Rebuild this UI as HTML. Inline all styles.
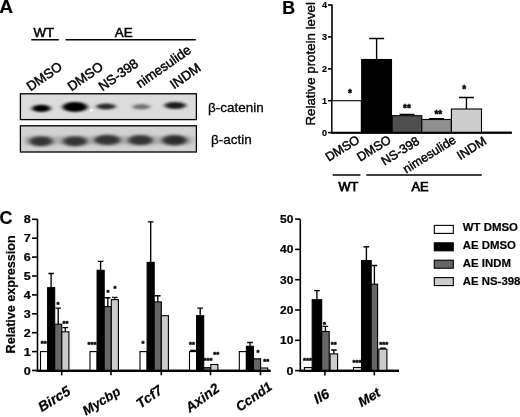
<!DOCTYPE html>
<html><head><meta charset="utf-8"><title>Figure</title>
<style>
html,body{margin:0;padding:0;background:#fff;}
body{width:520px;height:417px;overflow:hidden;position:relative;font-family:"Liberation Sans",sans-serif;}
svg{position:absolute;left:0;top:0;display:block;}
text{font-family:"Liberation Sans",sans-serif;fill:#000;stroke:#000;stroke-width:0.3px;}
.b{font-weight:bold;stroke-width:0.2px;}
.bi{font-weight:bold;font-style:italic;}
.ax{stroke:#000;stroke-width:1.6;fill:none;}
.eb{stroke:#000;stroke-width:1.35;fill:none;}
.bar{stroke:#000;stroke-width:1.1;}
.st{font-weight:bold;text-anchor:middle;stroke-width:0.45px;}
</style></head><body>
<svg width="520" height="417" viewBox="0 0 520 417">
<defs>
<filter id="bl1" x="-30%" y="-60%" width="160%" height="220%"><feGaussianBlur stdDeviation="1.9 1.25"/></filter>
<filter id="bl2" x="-30%" y="-60%" width="160%" height="220%"><feGaussianBlur stdDeviation="2.7 1.7"/></filter>
<filter id="soft"><feGaussianBlur stdDeviation="0.35"/></filter>
</defs>
<rect x="0" y="0" width="520" height="417" fill="#fff"/>
<g filter="url(#soft)">

<text class="b" x="-0.8" y="13.3" font-size="19.2">A</text>
<text x="33.4" y="36.5" font-size="13.3" style="stroke-width:0.55px">WT</text>
<text x="114.8" y="36.5" font-size="13.4" style="stroke-width:0.5px">AE</text>
<path class="ax" style="stroke-width:1.4" d="M31.3 39.8H58.8M65.5 39.8H195.8"/>
<text  transform="translate(30.5 91.5) rotate(-35)" font-size="13.3" text-anchor="start" style="stroke-width:0.45px">DMSO</text>
<text  transform="translate(71.5 91.5) rotate(-35)" font-size="13.3" text-anchor="start" style="stroke-width:0.45px">DMSO</text>
<text  transform="translate(102.5 91.5) rotate(-35)" font-size="13.3" text-anchor="start" style="stroke-width:0.45px">NS-398</text>
<text  transform="translate(140 88.5) rotate(-35)" font-size="13.3" text-anchor="start" style="stroke-width:0.45px">nimesulide</text>
<text  transform="translate(174 89.5) rotate(-35)" font-size="13.3" text-anchor="start" style="stroke-width:0.45px">INDM</text>
<rect x="20.4" y="93.8" width="176" height="25.8" fill="#dcdcdc" stroke="#000" stroke-width="1.3"/>
<rect x="20.4" y="125.8" width="176" height="26.2" fill="#d2d2d2" stroke="#000" stroke-width="1.3"/>
<ellipse cx="41.3" cy="108.4" rx="9.4" ry="3.6" fill="#000" opacity="1" filter="url(#bl1)"/>
<ellipse cx="75" cy="107" rx="12.6" ry="4.9" fill="#000" opacity="1" filter="url(#bl1)"/>
<ellipse cx="106" cy="106.5" rx="10" ry="2.9" fill="#2a2a2a" opacity="1" filter="url(#bl1)"/>
<ellipse cx="141.3" cy="106.8" rx="9" ry="2.7" fill="#666" opacity="0.9" filter="url(#bl1)"/>
<ellipse cx="175.2" cy="105.5" rx="10.8" ry="3.4" fill="#1c1c1c" opacity="1" filter="url(#bl1)"/>
<ellipse cx="41" cy="141.3" rx="11.8" ry="4.9" fill="#262626" filter="url(#bl2)"/>
<ellipse cx="75" cy="141.3" rx="12.2" ry="4.9" fill="#262626" filter="url(#bl2)"/>
<ellipse cx="107.3" cy="140" rx="13.2" ry="5" fill="#262626" filter="url(#bl2)"/>
<ellipse cx="140.5" cy="140.2" rx="12.5" ry="4.9" fill="#262626" filter="url(#bl2)"/>
<ellipse cx="174.5" cy="140.2" rx="12.5" ry="5" fill="#1e1e1e" filter="url(#bl2)"/>
<rect x="24" y="136.5" width="169" height="8" fill="#555" opacity="0.28" filter="url(#bl2)"/>
<circle cx="91.3" cy="110.3" r="1.4" fill="#fff" opacity="0.9"/>
<text x="208" y="111.7" font-size="13.5">β-catenin</text>
<text x="211" y="144.3" font-size="13.5">β-actin</text>
<text class="b" x="282.3" y="13.9" font-size="17.8">B</text>
<text transform="translate(315.3 125.5) rotate(-90)" font-size="13.3" style="stroke-width:0.4px">Relative protein level</text>
<path class="ax" d="M332 4.5V132.6H511"/>
<path class="ax" d="M328 132.6H332"/>
<text class="b" x="327" y="135.7" font-size="9" text-anchor="end">0</text>
<path class="ax" d="M328 100.7H332"/>
<text class="b" x="327" y="103.8" font-size="9" text-anchor="end">1</text>
<path class="ax" d="M328 68.8H332"/>
<text class="b" x="327" y="71.9" font-size="9" text-anchor="end">2</text>
<path class="ax" d="M328 36.9H332"/>
<text class="b" x="327" y="40.0" font-size="9" text-anchor="end">3</text>
<path class="ax" d="M328 5.0H332"/>
<text class="b" x="327" y="8.1" font-size="9" text-anchor="end">4</text>
<rect class="bar" x="332" y="100.7" width="29.30000000000001" height="31.9" fill="#fff"/>
<path class="eb" d="M376.6 59.5V38.5M369.1 38.5H384.1"/>
<rect class="bar" x="361.7" y="59.5" width="29.80000000000001" height="73.1" fill="#000"/>
<path class="eb" d="M407.05 115.7V114.4M399.55 114.4H414.55"/>
<rect class="bar" x="392.3" y="115.7" width="29.5" height="16.9" fill="#505050"/>
<path class="eb" d="M436.6 119.5V118.6M429.1 118.6H444.1"/>
<rect class="bar" x="421.8" y="119.5" width="29.599999999999966" height="13.1" fill="#909090"/>
<path class="eb" d="M466.45 109.0V97.5M458.95 97.5H473.95"/>
<rect class="bar" x="451.4" y="109.0" width="30.100000000000023" height="23.6" fill="#cdcdcd"/>
<path class="ax" style="stroke-width:2" d="M331.2 132.79999999999998H512"/>
<text class="st" x="350" y="97" font-size="10">*</text>
<text class="st" x="407" y="111.5" font-size="10">**</text>
<text class="st" x="438.3" y="117.6" font-size="10">**</text>
<text class="st" x="464.3" y="92.5" font-size="10">*</text>
<text  transform="translate(360.5 142) rotate(-32)" font-size="12.5" text-anchor="end" style="stroke-width:0.45px">DMSO</text>
<text  transform="translate(392 142) rotate(-32)" font-size="12.5" text-anchor="end" style="stroke-width:0.45px">DMSO</text>
<text  transform="translate(420.5 143.3) rotate(-32)" font-size="12.5" text-anchor="end" style="stroke-width:0.45px">NS-398</text>
<text  transform="translate(457 142) rotate(-32)" font-size="12.5" text-anchor="end" style="stroke-width:0.45px">nimesulide</text>
<text  transform="translate(487.3 143.3) rotate(-32)" font-size="12.5" text-anchor="end" style="stroke-width:0.45px">INDM</text>
<path class="ax" style="stroke-width:1.35" d="M332.8 175H360.4M366.3 175H481.8"/>
<text x="338.5" y="190.6" font-size="12.8" style="stroke-width:0.75px">WT</text>
<text x="411.5" y="190.6" font-size="12.8" style="stroke-width:0.75px">AE</text>
<text class="b" x="-0.5" y="224" font-size="17.8">C</text>
<text class="b" transform="translate(14.6 353.4) rotate(-90)" font-size="12" textLength="118" lengthAdjust="spacingAndGlyphs">Relative expression</text>
<path class="ax" d="M37.5 219.3V370.5H270"/>
<path class="ax" d="M32.0 370.5H37.5"/>
<text class="b" x="30.7" y="374.5" font-size="11" text-anchor="end" textLength="7" lengthAdjust="spacingAndGlyphs">0</text>
<path class="ax" d="M32.0 351.6H37.5"/>
<text class="b" x="30.7" y="355.6" font-size="11" text-anchor="end" textLength="7" lengthAdjust="spacingAndGlyphs">1</text>
<path class="ax" d="M32.0 332.7H37.5"/>
<text class="b" x="30.7" y="336.7" font-size="11" text-anchor="end" textLength="7" lengthAdjust="spacingAndGlyphs">2</text>
<path class="ax" d="M32.0 313.8H37.5"/>
<text class="b" x="30.7" y="317.8" font-size="11" text-anchor="end" textLength="7" lengthAdjust="spacingAndGlyphs">3</text>
<path class="ax" d="M32.0 294.9H37.5"/>
<text class="b" x="30.7" y="298.9" font-size="11" text-anchor="end" textLength="7" lengthAdjust="spacingAndGlyphs">4</text>
<path class="ax" d="M32.0 276.0H37.5"/>
<text class="b" x="30.7" y="280.0" font-size="11" text-anchor="end" textLength="7" lengthAdjust="spacingAndGlyphs">5</text>
<path class="ax" d="M32.0 257.1H37.5"/>
<text class="b" x="30.7" y="261.1" font-size="11" text-anchor="end" textLength="7" lengthAdjust="spacingAndGlyphs">6</text>
<path class="ax" d="M32.0 238.2H37.5"/>
<text class="b" x="30.7" y="242.2" font-size="11" text-anchor="end" textLength="7" lengthAdjust="spacingAndGlyphs">7</text>
<path class="ax" d="M32.0 219.3H37.5"/>
<text class="b" x="30.7" y="223.3" font-size="11" text-anchor="end" textLength="7" lengthAdjust="spacingAndGlyphs">8</text>
<rect class="bar" x="40.5" y="351.6" width="7.1" height="18.9" fill="#fff"/>
<path class="eb" d="M51.1 287.7V273.5M48.4 273.5H53.9"/>
<rect class="bar" x="47.6" y="287.7" width="7.1" height="82.8" fill="#000"/>
<path class="eb" d="M58.2 324.2V308.1M55.5 308.1H61.0"/>
<rect class="bar" x="54.7" y="324.2" width="7.1" height="46.3" fill="#666"/>
<path class="eb" d="M65.3 331.8V327.6M62.5 327.6H68.1"/>
<rect class="bar" x="61.8" y="331.8" width="7.1" height="38.7" fill="#ccc"/>
<path class="ax" d="M61.7 370.5V375.3"/>
<rect class="bar" x="90.0" y="351.6" width="7.1" height="18.9" fill="#fff"/>
<path class="eb" d="M100.6 270.3V261.3M97.8 261.3H103.4"/>
<rect class="bar" x="97.1" y="270.3" width="7.1" height="100.2" fill="#000"/>
<path class="eb" d="M107.8 306.6V297.7M105.0 297.7H110.5"/>
<rect class="bar" x="104.2" y="306.6" width="7.1" height="63.9" fill="#666"/>
<path class="eb" d="M114.8 299.6V297.4M112.0 297.4H117.6"/>
<rect class="bar" x="111.3" y="299.6" width="7.1" height="70.9" fill="#ccc"/>
<path class="ax" d="M111 370.5V375.3"/>
<rect class="bar" x="140.0" y="351.6" width="7.1" height="18.9" fill="#fff"/>
<path class="eb" d="M150.7 262.4V221.8M147.8 221.8H153.5"/>
<rect class="bar" x="147.1" y="262.4" width="7.1" height="108.1" fill="#000"/>
<path class="eb" d="M157.8 301.9V295.7M154.9 295.7H160.6"/>
<rect class="bar" x="154.2" y="301.9" width="7.1" height="68.6" fill="#666"/>
<rect class="bar" x="161.3" y="315.7" width="7.1" height="54.8" fill="#ccc"/>
<path class="ax" d="M161.3 370.5V375.3"/>
<path class="eb" d="M193.1 351.6V350.3M190.2 350.3H195.9"/>
<rect class="bar" x="189.5" y="351.6" width="7.1" height="18.9" fill="#fff"/>
<path class="eb" d="M200.2 315.7V308.1M197.3 308.1H203.0"/>
<rect class="bar" x="196.6" y="315.7" width="7.1" height="54.8" fill="#000"/>
<rect class="bar" x="203.7" y="367.7" width="7.1" height="2.8" fill="#666"/>
<rect class="bar" x="210.8" y="364.5" width="7.1" height="6.0" fill="#ccc"/>
<path class="ax" d="M210.5 370.5V375.3"/>
<rect class="bar" x="239.3" y="351.6" width="7.1" height="18.9" fill="#fff"/>
<path class="eb" d="M250.0 346.3V342.5M247.2 342.5H252.8"/>
<rect class="bar" x="246.4" y="346.3" width="7.1" height="24.2" fill="#000"/>
<rect class="bar" x="253.5" y="358.8" width="7.1" height="11.7" fill="#666"/>
<rect class="bar" x="260.6" y="368.0" width="7.1" height="2.5" fill="#ccc"/>
<path class="ax" d="M260.5 370.5V375.3"/>
<path class="ax" style="stroke-width:2.1" d="M36.7 370.9H270.8"/>
<text class="st" x="43.75" y="346.3" font-size="7.6">**</text>
<text class="st" x="58" y="306.6" font-size="7.6">*</text>
<text class="st" x="65.5" y="326.3" font-size="7.6">**</text>
<text class="st" x="92" y="347.1" font-size="7.6">***</text>
<text class="st" x="108" y="295.1" font-size="7.6">*</text>
<text class="st" x="115" y="291.3" font-size="7.6">*</text>
<text class="st" x="143" y="345.8" font-size="7.6">*</text>
<text class="st" x="192" y="347.1" font-size="7.6">**</text>
<text class="st" x="208" y="362.6" font-size="7.6">***</text>
<text class="st" x="216.25" y="356.6" font-size="7.6">**</text>
<text class="st" x="258" y="355.3" font-size="7.6">*</text>
<text class="st" x="266.25" y="364.1" font-size="7.6">**</text>
<text class='bi' transform="translate(71.5 393.7) rotate(-32)" font-size="14" text-anchor="end" style="stroke-width:0.2px">Birc5</text>
<text class='bi' transform="translate(121.5 393.7) rotate(-32)" font-size="13.2" text-anchor="end" style="stroke-width:0.2px">Mycbp</text>
<text class='bi' transform="translate(163.5 392.3) rotate(-36)" font-size="14" text-anchor="end" style="stroke-width:0.2px">Tcf7</text>
<text class='bi' transform="translate(220.5 390.5) rotate(-36)" font-size="14" text-anchor="end" style="stroke-width:0.2px">Axin2</text>
<text class='bi' transform="translate(273.2 388.6) rotate(-35)" font-size="13.4" text-anchor="end" style="stroke-width:0.2px">Ccnd1</text>
<path class="ax" d="M300.3 219.3V370.6H398.8"/>
<path class="ax" d="M295.1 370.6H300.3"/>
<text class="b" x="293.3" y="374.6" font-size="11" text-anchor="end" textLength="6.9" lengthAdjust="spacingAndGlyphs">0</text>
<path class="ax" d="M295.1 340.3H300.3"/>
<text class="b" x="293.3" y="344.3" font-size="11" text-anchor="end" textLength="13.3" lengthAdjust="spacingAndGlyphs">10</text>
<path class="ax" d="M295.1 310.0H300.3"/>
<text class="b" x="293.3" y="314.0" font-size="11" text-anchor="end" textLength="13.3" lengthAdjust="spacingAndGlyphs">20</text>
<path class="ax" d="M295.1 279.7H300.3"/>
<text class="b" x="293.3" y="283.7" font-size="11" text-anchor="end" textLength="13.3" lengthAdjust="spacingAndGlyphs">30</text>
<path class="ax" d="M295.1 249.4H300.3"/>
<text class="b" x="293.3" y="253.4" font-size="11" text-anchor="end" textLength="13.3" lengthAdjust="spacingAndGlyphs">40</text>
<path class="ax" d="M295.1 219.1H300.3"/>
<text class="b" x="293.3" y="223.1" font-size="11" text-anchor="end" textLength="13.3" lengthAdjust="spacingAndGlyphs">50</text>
<rect class="bar" x="304.4" y="367.6" width="7.8" height="3.0" fill="#fff"/>
<path class="eb" d="M316.9 299.7V290.6M314.1 290.6H319.8"/>
<rect class="bar" x="312.2" y="299.7" width="9.5" height="70.9" fill="#000"/>
<path class="eb" d="M325.4 331.5V326.4M322.6 326.4H328.2"/>
<rect class="bar" x="321.7" y="331.5" width="7.5" height="39.1" fill="#666"/>
<path class="eb" d="M333.9 353.9V350.0M331.1 350.0H336.7"/>
<rect class="bar" x="330.1" y="353.9" width="7.5" height="16.7" fill="#ccc"/>
<path class="ax" d="M324.9 370.6V375.40000000000003"/>
<rect class="bar" x="353.5" y="367.6" width="8.0" height="3.0" fill="#fff"/>
<path class="eb" d="M366.4 260.6V246.7M363.6 246.7H369.2"/>
<rect class="bar" x="361.5" y="260.6" width="9.7" height="110.0" fill="#000"/>
<path class="eb" d="M374.4 284.2V265.5M371.6 265.5H377.2"/>
<rect class="bar" x="371.2" y="284.2" width="6.4" height="86.4" fill="#666"/>
<path class="eb" d="M382.9 349.1V348.2M380.1 348.2H385.7"/>
<rect class="bar" x="378.8" y="349.1" width="8.1" height="21.5" fill="#ccc"/>
<path class="ax" d="M374.3 370.6V375.40000000000003"/>
<path class="ax" style="stroke-width:2.1" d="M299.5 370.90000000000003H399"/>
<text class="st" x="307.5" y="362.6" font-size="7.6">***</text>
<text class="st" x="324.5" y="326.6" font-size="7.6">*</text>
<text class="st" x="333.75" y="347.1" font-size="7.6">**</text>
<text class="st" x="357" y="365.1" font-size="7.6">***</text>
<text class="st" x="383.75" y="347.1" font-size="7.6">***</text>
<text class='bi' transform="translate(330.5 396.5) rotate(-30)" font-size="14" text-anchor="end" style="stroke-width:0.2px">Il6</text>
<text class='bi' transform="translate(381.5 395.2) rotate(-31)" font-size="13.6" text-anchor="end" style="stroke-width:0.2px">Met</text>
<rect class="bar" x="434.3" y="225.4" width="19" height="8" fill="#fff"/>
<text class="b" x="462.8" y="230.8" font-size="11.4">WT DMSO</text>
<rect class="bar" x="434.3" y="242.8" width="19" height="8" fill="#000"/>
<text class="b" x="462.8" y="248.8" font-size="11.4">AE DMSO</text>
<rect class="bar" x="434.3" y="260.2" width="19" height="8" fill="#666"/>
<text class="b" x="462.8" y="266.8" font-size="11.4">AE INDM</text>
<rect class="bar" x="434.3" y="277.6" width="19" height="8" fill="#ccc"/>
<text class="b" x="462.8" y="284.8" font-size="11.4">AE NS-398</text>
</g></svg></body></html>
